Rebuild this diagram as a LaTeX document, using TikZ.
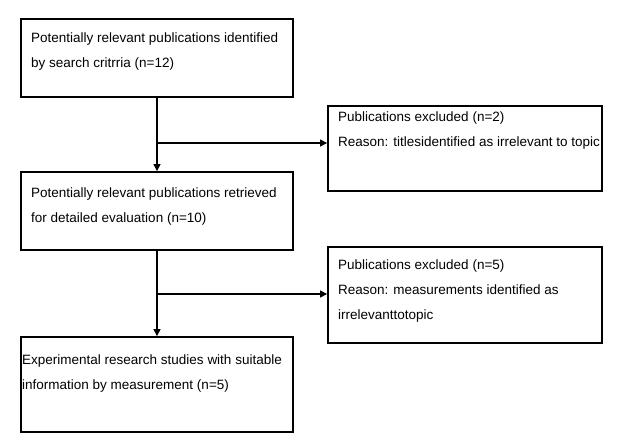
\documentclass[tikz,border=0pt]{standalone}
\usepackage{fontspec}
\setmainfont{Liberation Sans}
\usetikzlibrary{arrows.meta}
\begin{document}
\begin{tikzpicture}[x=1pt,y=-1pt,
  box/.style={draw, line width=1.8pt, inner sep=0pt, minimum height=#1},
  lbox/.style={box=#1, minimum width=272pt},
  rbox/.style={box=#1, minimum width=274pt},
  txt/.style={anchor=base west, inner sep=0pt, font=\fontsize{13.5}{16}\selectfont},
  conn/.style={line width=1.1pt},
  arr/.style={conn, -{Triangle[length=7pt,width=7pt]}}]
\useasboundingbox (0,0) rectangle (623,442);
\node[lbox=78pt] (b1) at (157,58) {};
\node[lbox=78pt] (b2) at (157,211) {};
\node[lbox=95pt] (b3) at (157,384.5) {};
\node[rbox=85pt] (r1) at (465,148.5) {};
\node[rbox=96pt] (r2) at (465,295) {};
\node[txt] (t1a) at (31,42) {Potentially relevant publications identified};
\node[txt] (t1b) at (31,67) {by search critrria (n=12)};
\node[txt] (t2a) at (31,197) {Potentially relevant publications retrieved};
\node[txt] (t2b) at (31,222) {for detailed evaluation (n=10)};
\node[txt] (t3a) at (22,364) {Experimental research studies with suitable};
\node[txt] (t3b) at (22,389) {information by measurement (n=5)};
\node[txt] (t4a) at (338,121) {Publications excluded (n=2)};
\node[txt] (t4b) at (338,146) {Reason: titlesidentified as irrelevant to topic};
\node[txt] (t5a) at (338,269) {Publications excluded (n=5)};
\node[txt] (t5b) at (338,294) {Reason: measurements identified as};
\node[txt] (t5c) at (338,319) {irrelevanttotopic};
\coordinate (j1) at (157,143);
\coordinate (j2) at (157,294);
\draw[arr] (b1.south) -- (b2.north);
\draw[arr] (b2.south) -- (b3.north);
\draw[arr] (j1) -- (j1 -| r1.west);
\draw[arr] (j2) -- (j2 -| r2.west);
\end{tikzpicture}
\end{document}
